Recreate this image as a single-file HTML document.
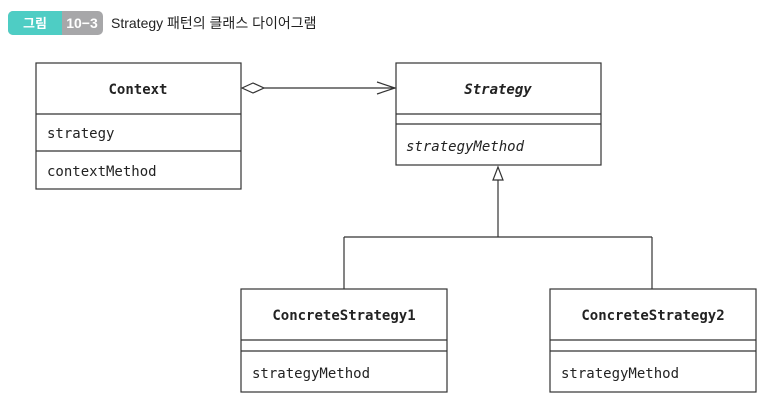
<!DOCTYPE html>
<html><head><meta charset="utf-8"><style>
body{margin:0;width:769px;height:401px;background:#fff;overflow:hidden}
</style></head><body>
<svg width="769" height="401" xmlns="http://www.w3.org/2000/svg" style="position:absolute;left:0;top:0">
<rect x="8" y="11" width="95" height="24" rx="5" fill="#a7a7a9"/>
<path d="M13 11 H62 V35 H13 A5 5 0 0 1 8 30 V16 A5 5 0 0 1 13 11Z" fill="#4ecdc4"/>
<text x="35" y="28" font-family="Noto Sans CJK KR, sans-serif" font-size="13" font-weight="bold" fill="#fff" text-anchor="middle">그림</text>
<text x="82" y="28" font-family="Liberation Sans, sans-serif" font-size="14" font-weight="bold" fill="#fff" text-anchor="middle">10−3</text>
<text x="111" y="28" font-family="Liberation Sans, Noto Sans CJK KR, sans-serif" font-size="14" fill="#222">Strategy 패턴의 클래스 다이어그램</text>
<g fill="none" stroke="#333" stroke-width="1.2">
<rect x="36" y="63" width="205" height="126"/>
<line x1="36" y1="114" x2="241" y2="114"/>
<line x1="36" y1="151" x2="241" y2="151"/>
<rect x="396" y="63" width="205" height="102"/>
<line x1="396" y1="114" x2="601" y2="114"/>
<line x1="396" y1="124" x2="601" y2="124"/>
<rect x="241" y="289" width="206" height="103"/>
<line x1="241" y1="340" x2="447" y2="340"/>
<line x1="241" y1="351" x2="447" y2="351"/>
<rect x="550" y="289" width="206" height="103"/>
<line x1="550" y1="340" x2="756" y2="340"/>
<line x1="550" y1="351" x2="756" y2="351"/>
<path d="M242 88 L253 83 L264 88 L253 93 Z"/>
<line x1="264" y1="88" x2="395" y2="88"/>
<path d="M377 82 L395 88 L377 94"/>
<path d="M498 167 L493 180 L503 180 Z"/>
<line x1="498" y1="180" x2="498" y2="237"/>
<line x1="344" y1="237" x2="652" y2="237"/>
<line x1="344" y1="237" x2="344" y2="289"/>
<line x1="652" y1="237" x2="652" y2="289"/>
</g>
<g font-family="DejaVu Sans Mono, Liberation Mono, monospace" font-size="14" fill="#222">
<text x="138" y="94" text-anchor="middle" font-weight="bold">Context</text>
<text x="47" y="138">strategy</text>
<text x="47" y="176">contextMethod</text>
<text x="498" y="94" text-anchor="middle" font-weight="bold" font-style="italic">Strategy</text>
<text x="406" y="151" font-style="italic">strategyMethod</text>
<text x="344" y="320" text-anchor="middle" font-weight="bold">ConcreteStrategy1</text>
<text x="252" y="378">strategyMethod</text>
<text x="653" y="320" text-anchor="middle" font-weight="bold">ConcreteStrategy2</text>
<text x="561" y="378">strategyMethod</text>
</g>
</svg>
</body></html>
